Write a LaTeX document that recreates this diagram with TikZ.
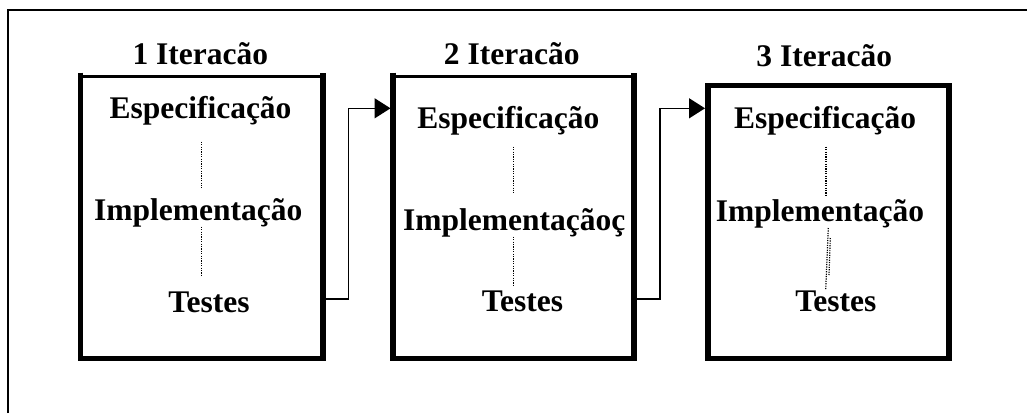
\documentclass[tikz,border=0pt]{standalone}
\usepackage{fontspec}
\setmainfont{Liberation Serif}
\usetikzlibrary{arrows.meta}
\begin{document}
\begin{tikzpicture}[x=1pt,y=-1pt,
  lbl/.style={anchor=base,inner sep=0pt,font=\bfseries\fontsize{31.5}{36}\selectfont},
  side/.style={line width=5.5pt,line join=miter,line cap=butt},
  topline/.style={line width=3pt},
  dots/.style={line width=1.2pt,dash pattern=on 1.2pt off 1.2pt},
  conn/.style={line width=1.5pt,-{Triangle[length=16pt,width=20pt]}},
  frame/.style={line width=1.8pt}]
\useasboundingbox (0,0) rectangle (1027,413);
% outer frame (left and top edges)
\coordinate (fA) at (8,413);
\coordinate (fB) at (8,10);
\coordinate (fC) at (1027,10);
\draw[frame] (fA) -- (fB) -- (fC);
% box corners
\coordinate (b1tl) at (80.5,72.7); \coordinate (b1bl) at (80.5,358.5);
\coordinate (b1br) at (323,358.5); \coordinate (b1tr) at (323,72.7);
\coordinate (b2tl) at (393,72.7); \coordinate (b2bl) at (393,358.5);
\coordinate (b2br) at (634,358.5); \coordinate (b2tr) at (634,72.7);
% box 1
\draw[side] (b1tl) -- (b1bl) -- (b1br) -- (b1tr);
\draw[topline] (80.5,76.5) -- (323,76.5);
% box 2
\draw[side] (b2tl) -- (b2bl) -- (b2br) -- (b2tr);
\draw[topline] (393,76.5) -- (634,76.5);
% box 3
\node[draw,line width=5.5pt,minimum width=241pt,minimum height=273pt,inner sep=0pt] (b3) at (828.5,222) {};
% titles
\node[lbl] (t1) at (200.3,64) {1 Iteracão};
\node[lbl] (t2) at (511.7,64) {2 Iteracão};
\node[lbl] (t3) at (824.2,66.7) {3 Iteracão};
% box 1 texts
\node[lbl] (e1) at (200.5,118.5) {Especificação};
\node[lbl] (i1) at (198.3,220) {Implementação};
\node[lbl] (s1) at (209,312.7) {Testes};
% box 2 texts
\node[lbl] (e2) at (508.3,128.3) {Especificação};
\node[lbl] (i2) at (514.2,230) {Implementaçãoç};
\node[lbl] (s2) at (522.5,311.7) {Testes};
% box 3 texts
\node[lbl] (e3) at (825,128.3) {Especificação};
\node[lbl] (i3) at (820,221.7) {Implementação};
\node[lbl] (s3) at (835.8,311.7) {Testes};
% dotted lines
\coordinate (d1a) at (201.7,141.7); \coordinate (d1b) at (201.7,188);
\coordinate (d1c) at (201.7,226.7); \coordinate (d1d) at (201.7,276.7);
\draw[dots] (d1a) -- (d1b);
\draw[dots] (d1c) -- (d1d);
\coordinate (d2a) at (513.3,146.7); \coordinate (d2b) at (513.3,193);
\coordinate (d2c) at (513.3,236.7); \coordinate (d2d) at (513.3,285);
\draw[dots] (d2a) -- (d2b);
\draw[dots] (d2c) -- (d2d);
\coordinate (d3a) at (826,146.7); \coordinate (d3b) at (826,195);
\coordinate (d3c) at (828.3,228); \coordinate (d3d) at (825.7,290);
\coordinate (d3e) at (830.3,238); \coordinate (d3f) at (829,275);
\draw[dots] (d3a) -- (d3b);
\draw[dots] (d3c) -- (d3d);
\draw[dots] (d3e) -- (d3f);
% connectors
\coordinate (a1s) at (325.5,299); \coordinate (a1m) at (348.3,108.3); \coordinate (a1e) at (390.5,108.3);
\draw[conn] (a1s) -| (a1m) -- (a1e);
\coordinate (a2s) at (636.5,299); \coordinate (a2m) at (660,108.3); \coordinate (a2e) at (705,108.3);
\draw[conn] (a2s) -| (a2m) -- (a2e);
\end{tikzpicture}
\end{document}
